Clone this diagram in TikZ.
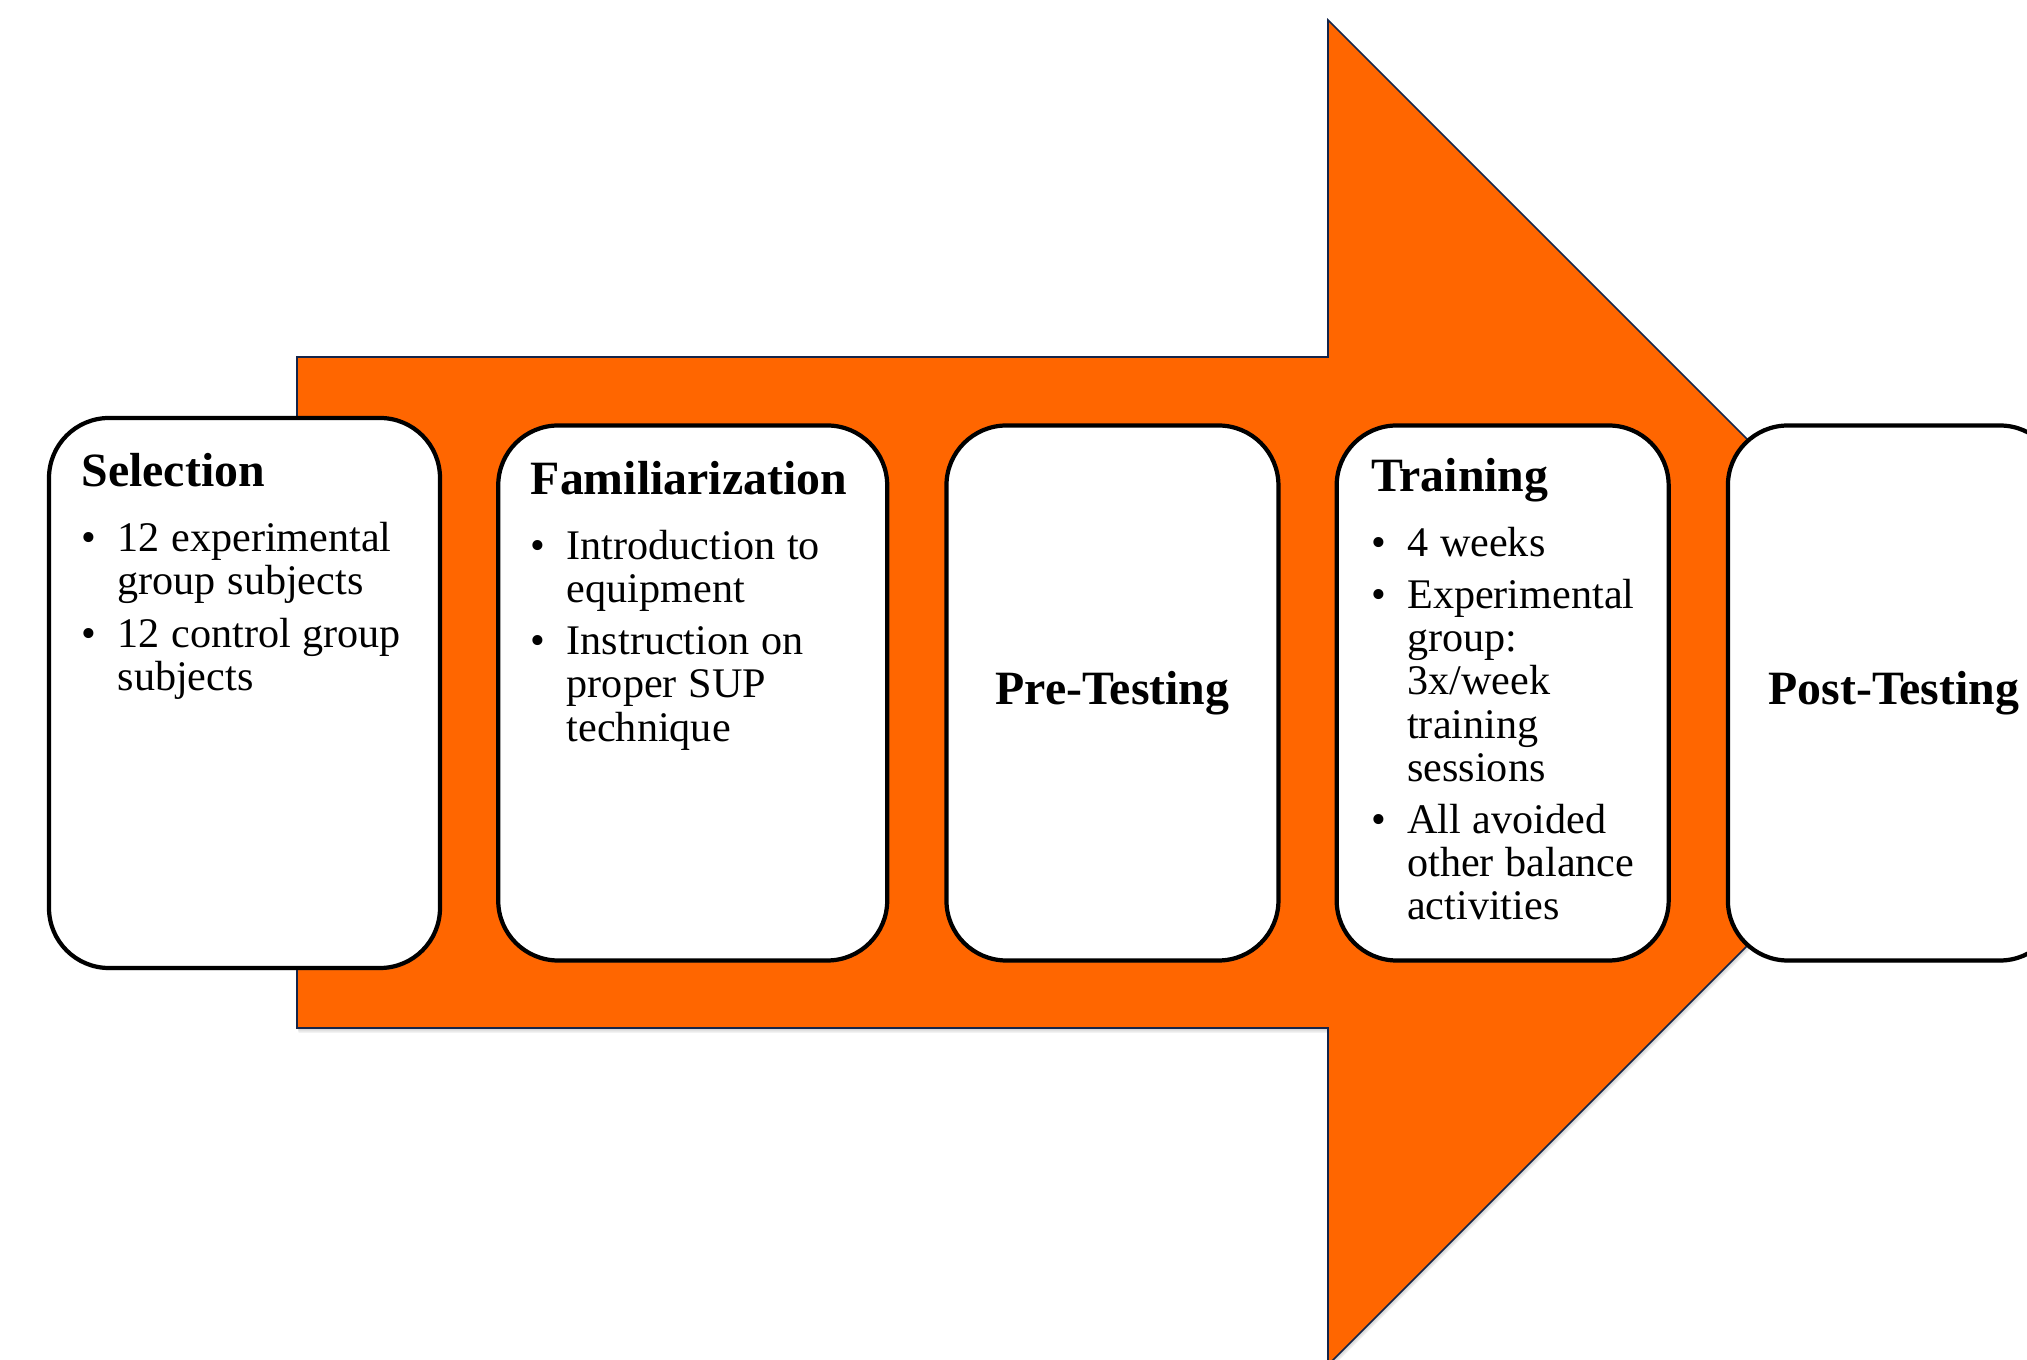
\documentclass[tikz,border=0pt]{standalone}
\usepackage{fontspec}
\setmainfont{Liberation Serif}
\usetikzlibrary{positioning,shadows}

\definecolor{stageorange}{HTML}{FF6600}
\definecolor{stageedge}{HTML}{14254A}

\newcommand{\headfont}{\fontsize{13.6pt}{16pt}\selectfont\bfseries}
\newcommand{\itemfont}{\fontsize{12pt}{12.3pt}\selectfont}
\newcommand{\stagehead}[1]{{\headfont #1\par}\vspace{3.6pt}\itemfont\setlength{\parskip}{2.55pt}}
\newcommand{\bitem}[1]{\par\hangindent=0.36cm\hangafter=1\noindent\makebox[0.36cm][l]{\textbullet}#1\par}
\newcommand{\arrowpath}{(2.97,10.03) -- (13.28,10.03) -- (13.28,13.40) -- (20.005,6.675) -- (13.28,-0.05) -- (13.28,3.32) -- (2.97,3.32) -- cycle}

\tikzset{
  stagebox/.style={draw=black, line width=1.2pt, fill=white, rounded corners=0.6cm,
    minimum width=3.32cm, minimum height=5.35cm, inner sep=0pt,
    drop shadow={shadow xshift=0pt, shadow yshift=-0.7pt, opacity=0.2}},
  stagetext/.style={anchor=base west, inner sep=0pt, text width=3.3cm, align=left},
}

\begin{document}
\begin{tikzpicture}
\useasboundingbox (0,0) rectangle (20.27,13.6);
% big arrow behind the stages
\foreach \s in {1,...,4}
\fill[black, opacity=0.05, shift={(0.004*\s,-0.012*\s)}] \arrowpath;
\draw[stageedge, line width=0.45pt, fill=stageorange] \arrowpath;

% stages
\node[stagebox, minimum width=3.91cm, minimum height=5.50cm] (sel) at (2.445,6.67) {};
\node[stagebox, minimum width=3.89cm, right=0.54cm of sel] (fam) {};
\node[stagebox, right=0.55cm of fam, font=\headfont] (pre) {Pre-Testing};
\node[stagebox, right=0.54cm of pre] (train) {};
\node[stagebox, right=0.55cm of train, font=\headfont] (post) {Post-Testing};

% text in the stages
\node[stagetext] (selText) at ([shift={(0.34,-0.71)}]sel.north west)
  {\stagehead{Selection}\bitem{12 experimental\newline group subjects}\bitem{12 control group\newline subjects}};
\node[stagetext] (famText) at ([shift={(0.34,-0.71)}]fam.north west)
  {\stagehead{Familiarization}\bitem{Introduction to\newline equipment}\bitem{Instruction on\newline proper SUP\newline technique}};
\node[stagetext] (trainText) at ([shift={(0.36,-0.68)}]train.north west)
  {\stagehead{Training}\bitem{4 weeks}\bitem{Experimental\newline group:\newline 3x/week\newline training\newline sessions}\bitem{All avoided\newline other balance\newline activities}};
\end{tikzpicture}
\end{document}
